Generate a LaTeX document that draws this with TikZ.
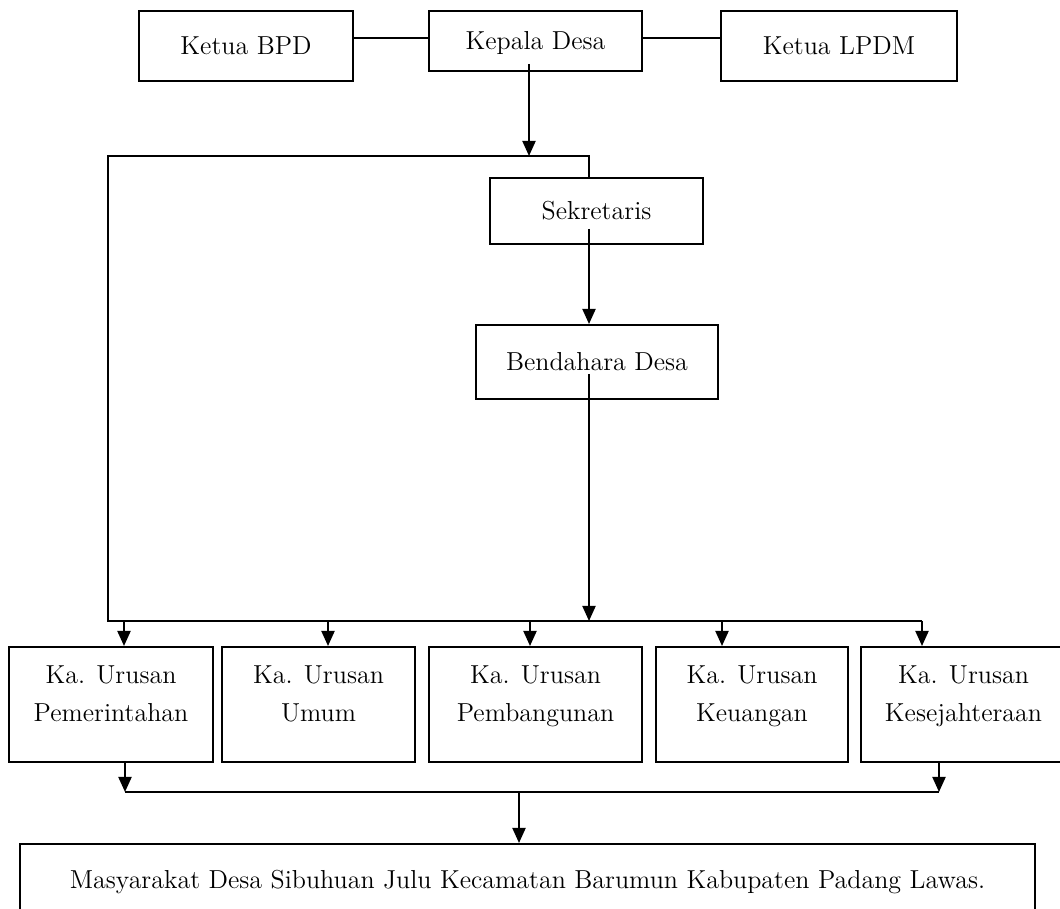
\documentclass[tikz,border=0pt]{standalone}
\usetikzlibrary{arrows.meta,calc}
\tikzset{
  frame/.style={draw, line width=1pt, inner sep=0pt, align=center,
    font=\fontsize{13}{19}\selectfont},
  box/.style={frame, text height=9pt, text depth=0pt},
  rowbox/.style={frame, minimum height=57.5pt},
  arr/.style={-{Triangle[length=7.5pt,width=6.5pt]}, line width=1pt},
  link/.style={line width=1pt},
}
% two lines of text, set a little above the middle of the box
\newcommand{\twoline}[2]{\raisebox{1.7pt}[0pt][0pt]{%
  \begin{tabular}{@{}c@{}}#1\\#2\end{tabular}}}

\begin{document}
\begin{tikzpicture}[x=0.5pt, y=0.5pt]
\useasboundingbox (0,0) rectangle (1060,909);

% ---------------------------------------------- top row
\node[box, minimum width=107pt, minimum height=35pt] (bpd) at (246,863) {Ketua BPD};
\node[box, minimum width=106.5pt, minimum height=30pt] (kepala) at (535.5,868) {Kepala Desa};
\node[box, minimum width=118pt, minimum height=35pt] (lpdm) at (839,863) {Ketua LPDM};

\node[box, minimum width=106.5pt, minimum height=33pt] (sek) at (596.5,698) {Sekretaris};
\node[box, minimum width=121pt, minimum height=37pt] (bend) at (597,547) {Bendahara Desa};

% ---------------------------------------------- urusan row
\foreach \n/\x/\w/\b in {pem/111/102/Pemerintahan, umum/318.5/96.5/Umum,
    pemb/535.5/106.5/Pembangunan, keu/752/96/Keuangan,
    kes/963.5/102.5/Kesejahteraan}
  \node[rowbox, minimum width=\w pt] (\n) at (\x,204.5) {\twoline{Ka. Urusan}{\b}};

\node[box, minimum width=507.5pt, minimum height=36pt] (masy) at (527.5,29)
  {Masyarakat Desa Sibuhuan Julu Kecamatan Barumun Kabupaten Padang Lawas.};

% ---------------------------------------------- junctions
\coordinate (kd) at (529,753);
\coordinate (busL) at (108,753);
\coordinate (busR) at (589,753);
\coordinate (midL) at (108,288);
\coordinate (midR) at (922,288);
\coordinate (lowL) at (125,117);
\coordinate (lowR) at (939,117);
\coordinate (lowM) at (519,117);

% ---------------------------------------------- connectors
\draw[link] ($(kepala.west)+(0,3)$) -- ($(kepala.west -| bpd.east)+(0,3)$);
\draw[link] ($(kepala.east)+(0,3)$) -- ($(kepala.east -| lpdm.west)+(0,3)$);
\draw[arr] ($(kepala.south -| kd)+(0,8)$) -- (kd);

\draw[link] (sek.north -| busR) -- (busR) -- (busL) -- (midL) -- (midR);
\draw[arr] ($(sek.south -| busR)+(0,16)$) -- (bend.north -| busR);
\draw[arr] ($(bend.south -| busR)+(0,26)$) -- (busR |- midL);

\foreach \n/\x in {pem/124, umum/328, pemb/530, keu/722, kes/922} {
  \coordinate (m\n) at (\x,288);
  \draw[arr] (m\n) -- (\n.north -| m\n);
}

\draw[arr] (pem.south -| lowL) -- (lowL);
\draw[arr] (kes.south -| lowR) -- (lowR);
\draw[link] (lowL) -- (lowR);
\draw[arr] (lowM) -- (masy.north -| lowM);

\end{tikzpicture}
\end{document}
